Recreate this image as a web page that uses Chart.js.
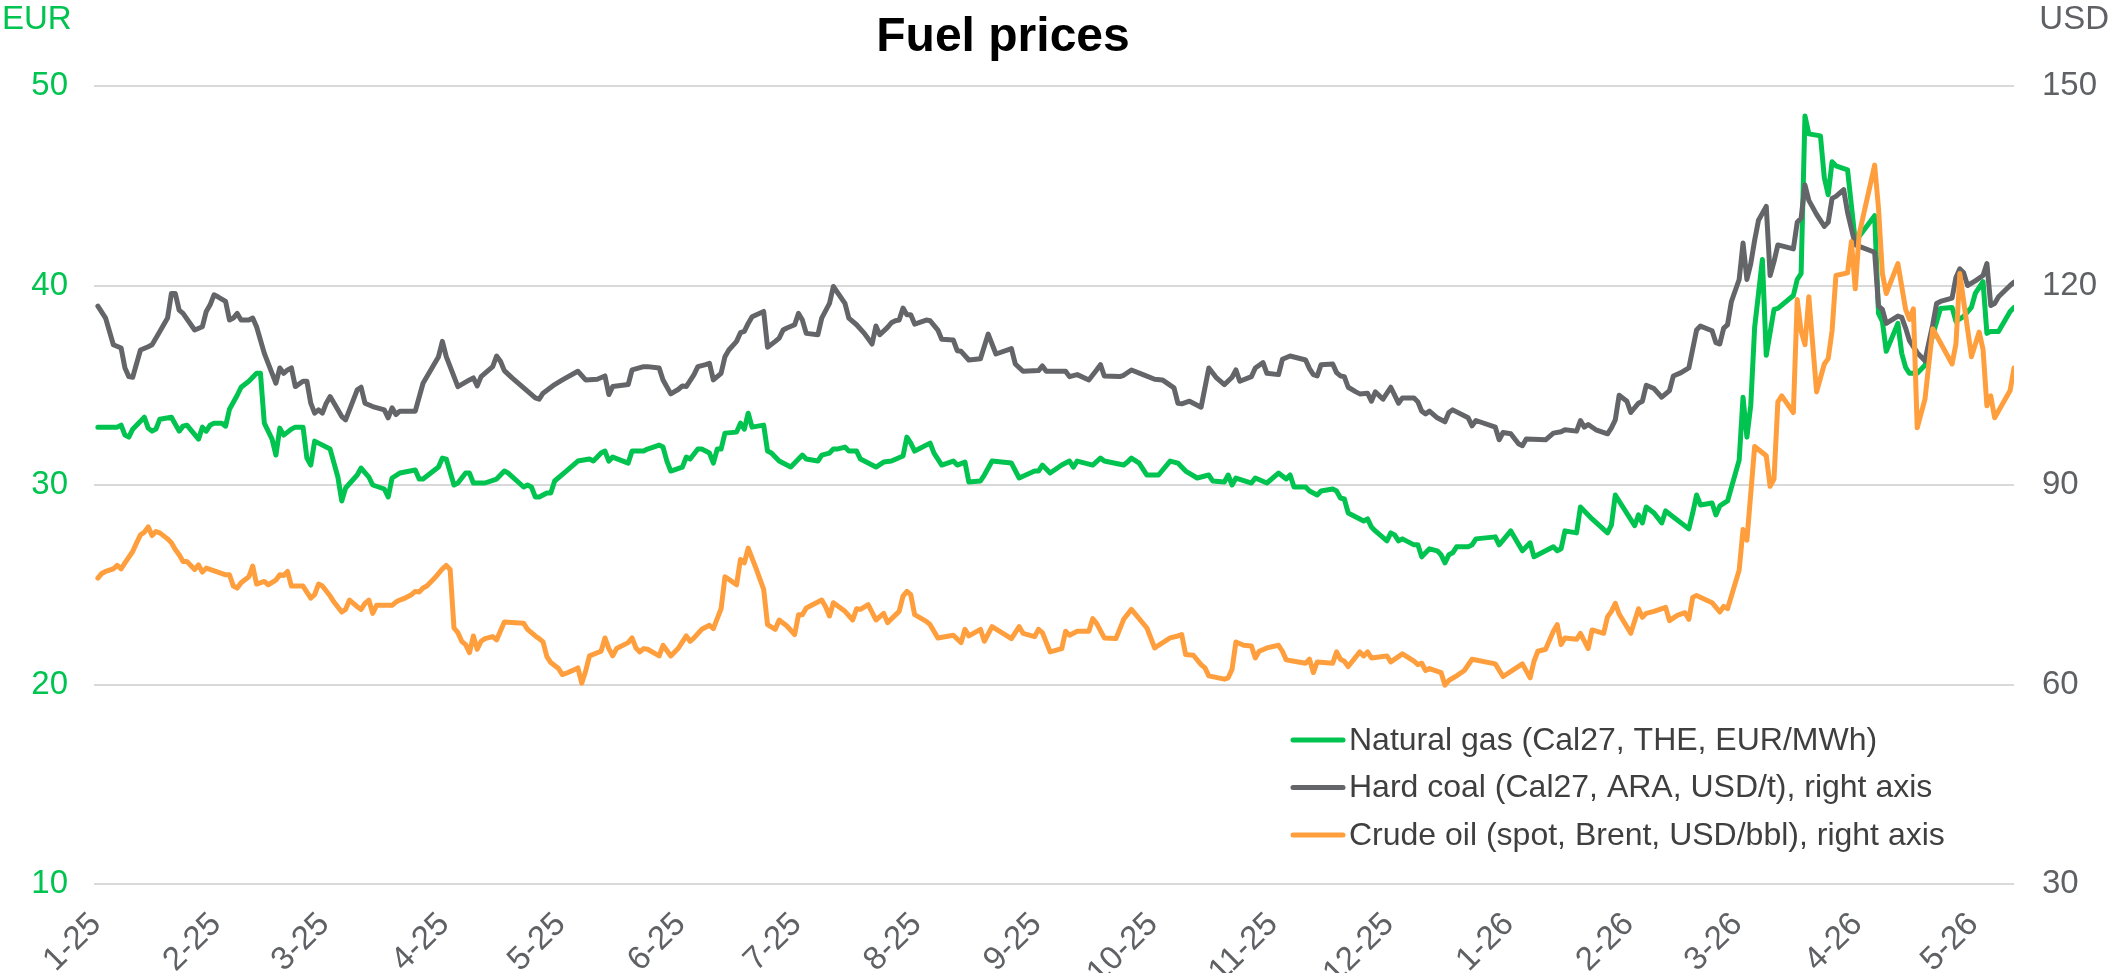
<!DOCTYPE html>
<html lang="en">
<head>
<meta charset="UTF-8">
<title>Fuel prices</title>
<script src="https://cdn.jsdelivr.net/npm/chart.js@4.4.1/dist/chart.umd.min.js"></script>
<style>
  body { margin: 0; background: #fff; }
  #chart { display: block; }
</style>
</head>
<body>
<canvas id="chart" width="2110" height="973"></canvas>
<script>
// x values are days counted from 1 Jan 2025
const chartTitle = 'Fuel prices';
const leftUnit = 'EUR';
const rightUnit = 'USD';
const monthStarts = [0, 31, 59, 90, 120, 151, 181, 212, 243, 273, 304, 334, 365, 396, 424, 455, 485];
const monthLabels = ['1-25', '2-25', '3-25', '4-25', '5-25', '6-25', '7-25', '8-25', '9-25', '10-25',
  '11-25', '12-25', '1-26', '2-26', '3-26', '4-26', '5-26'];
const seriesLabels = ['Natural gas (Cal27, THE, EUR/MWh)',
  'Hard coal (Cal27, ARA, USD/t), right axis',
  'Crude oil (spot, Brent, USD/bbl), right axis'];

// natural gas, EUR/MWh (left axis)
const gasDays = [1, 6, 7, 8, 9, 10, 13, 14, 15, 16, 17, 20, 22, 23, 24, 27, 28, 29, 30, 31, 33, 34, 35, 37, 38,
  40, 42, 43, 44, 46, 47, 48, 49, 51, 52, 54, 55, 56, 57, 58, 61, 62, 63, 64, 65, 68, 69, 71, 72, 75, 76, 77,
  79, 83, 84, 85, 89, 90, 91, 93, 94, 96, 97, 98, 101, 104, 105, 106, 107, 111, 112, 113, 114, 115, 117, 118,
  119, 122, 125, 128, 129, 131, 132, 133, 134, 138, 139, 142,
  143, 146, 147, 148, 149, 152, 153, 154, 156, 157, 159, 160, 161, 162, 163, 166, 167, 168, 169, 170, 173,
  174, 175, 177, 180, 183, 184, 187, 188, 190, 191, 192, 194, 195, 197, 198, 202, 204, 206, 209, 210, 211,
  212, 216, 217, 219, 222, 223, 225, 226, 229, 230, 232, 237, 239, 243, 244, 245, 246, 247, 250, 252, 253,
  254, 258, 260, 261, 266, 267, 268, 270, 272, 275, 278, 280, 282, 285, 288, 289, 292, 293, 294, 295, 299,
  300, 303, 306, 308, 309, 310,
  313, 314, 316, 317, 320, 321, 322, 323, 324, 326, 328, 329, 330, 331, 334, 335, 336, 337, 338, 341, 342,
  343, 345, 347, 348, 349, 350, 351, 352, 355, 356, 357, 362, 363, 366, 369, 371, 372, 377, 378, 379, 380,
  383, 384, 387, 391, 392, 393, 398, 399, 400, 401, 403, 405, 406, 408, 412, 413, 414, 415, 418, 419, 420,
  422, 425, 426, 427, 428, 429, 431, 432, 434, 435, 439, 440, 441, 442, 443, 446, 447, 448, 449, 450, 453,
  454, 455, 460, 461, 462, 463, 466, 467, 468, 469, 471, 473, 475, 477, 480, 481, 483, 485, 486, 488, 489,
  490, 492, 495, 496];
const gasPrices = [32.9, 32.9, 33.0, 32.5, 32.4, 32.8, 33.4, 32.85, 32.7, 32.8, 33.3, 33.4, 32.7, 32.95, 33.0,
  32.3, 32.9, 32.7, 33.0, 33.1, 33.1, 32.95, 33.8, 34.5, 34.9, 35.2, 35.6, 35.6, 33.1, 32.3, 31.5, 32.85, 32.5,
  32.8, 32.9, 32.9, 31.35, 31.0, 32.2, 32.1, 31.8, 31.1, 30.4, 29.2, 29.85, 30.5, 30.85, 30.4, 30.0, 29.8, 29.4,
  30.35, 30.6, 30.75, 30.3, 30.3, 30.9, 31.35, 31.3, 30.0, 30.1, 30.6, 30.6, 30.1, 30.1, 30.3, 30.5, 30.7, 30.6,
  29.9, 30.0, 29.9, 29.4, 29.4, 29.6, 29.6, 30.2, 30.7, 31.2, 31.3, 31.2, 31.6, 31.7, 31.2, 31.4, 31.1, 31.7,
  31.7,
  31.8, 32.0, 31.9, 31.2, 30.7, 30.9, 31.4, 31.3, 31.8, 31.8, 31.6, 31.1, 31.8, 31.8, 32.6, 32.65, 33.1, 32.8,
  33.6, 32.9, 33.0, 31.7, 31.6, 31.2, 30.9, 31.5, 31.3, 31.2, 31.5, 31.6, 31.8, 31.8, 31.9, 31.7, 31.7, 31.3,
  30.9, 31.15, 31.2, 31.45, 32.4, 32.1, 31.7, 32.1, 31.6, 31.0, 31.2, 31.0, 31.15, 30.15, 30.2, 30.5, 31.2,
  31.1, 30.35, 30.7, 30.7, 31.0, 30.8, 30.6, 31.0, 31.2, 30.9, 31.2, 31.0, 31.35, 31.2, 31.0, 31.15, 31.35,
  31.1, 30.5, 30.5, 31.2, 31.1, 30.7, 30.35, 30.5, 30.2, 30.15, 30.5, 30.0, 30.35, 30.1, 30.35, 30.1, 30.6,
  30.3, 30.5, 29.9,
  29.9, 29.7, 29.5, 29.7, 29.8, 29.7, 29.35, 29.3, 28.6, 28.4, 28.2, 28.3, 27.9, 27.7, 27.2, 27.6, 27.5, 27.2,
  27.3, 27.0, 27.0, 26.4, 26.8, 26.7, 26.5, 26.1, 26.5, 26.6, 26.9, 26.9, 27.0, 27.3, 27.4, 27.0, 27.7, 26.7,
  27.1, 26.4, 26.9, 26.7, 26.8, 27.7, 27.6, 28.9, 28.3, 27.6, 28.0, 29.5, 27.96, 28.5, 28.1, 28.9, 28.6, 28.1,
  28.7, 28.4, 27.8, 28.6, 29.5, 29.0, 29.1, 28.5, 28.95, 29.2, 31.25, 34.4, 32.4, 34.0, 37.9, 41.3, 36.5, 38.8,
  38.85, 39.5, 40.3, 40.6, 48.5, 47.6, 47.5, 45.4, 44.55, 46.2, 46.0, 45.8, 44.0, 42.2, 43.5, 38.6, 38.2, 36.7,
  38.1, 36.6, 35.9, 35.6, 35.6, 36.0, 37.5, 38.85, 38.9, 38.2, 38.45, 38.9, 39.6, 40.2, 37.6, 37.7, 37.7,
  38.7, 38.9];

// hard coal, USD/t (right axis)
const coalDays = [1, 3, 5, 7, 8, 9, 10, 12, 14, 15, 17, 19, 20, 21, 22, 23, 26, 28, 29, 30, 31, 32, 34, 35,
  36, 37, 38, 40, 41, 42, 44, 46, 47, 48, 49, 50, 51, 52, 54, 55, 56, 57, 58, 59, 60, 61, 63, 64, 65, 68, 69,
  70, 72, 75, 76, 77, 78, 79, 83, 85, 87, 89, 90, 91, 93, 94, 97, 98, 99, 100, 103, 104, 105, 106, 108, 111,
  114, 115, 116, 119, 121, 125, 127, 130, 132, 133, 134, 138, 139, 142,
  143, 146, 147, 149, 151, 152, 153, 155, 156, 158, 159, 160, 162, 163, 164, 166, 167, 168, 169, 170, 173,
  174, 176, 177, 178, 179, 181, 182, 183, 184, 187, 188, 190, 191, 194, 195, 197, 199, 201, 202, 203, 205,
  206, 207, 208, 209, 210, 211, 212, 215, 216, 218, 219, 222, 223, 224, 226, 229, 231, 233, 237, 238, 240,
  244, 245, 246, 251, 252, 254, 257, 259, 260, 261, 265, 266, 268, 271, 274, 276, 279, 280, 281, 283, 286,
  288, 290, 292, 294, 295, 296, 299, 300, 302, 303, 306, 307, 309,
  313, 314, 315, 316, 317, 320, 321, 322, 323, 324, 326, 327, 329, 330, 331, 333, 335, 337, 338, 341, 342,
  343, 344, 345, 347, 349, 350, 351, 355, 356, 357, 362, 363, 364, 366, 368, 369, 370, 375, 377, 379, 380,
  383, 384, 385, 386, 388, 391, 392, 393, 394, 396, 397, 399, 400, 401, 403, 405, 407, 408, 410, 412, 414,
  415, 418, 419, 420, 421, 422, 423, 425, 426, 427, 428, 429, 430, 432, 433, 434, 435, 439, 440, 441, 442,
  443, 445, 447, 448, 449, 450, 452, 453, 455, 460, 461, 462, 463, 466, 467, 468, 469, 471, 473, 475, 476,
  477, 480, 481, 482, 483, 484, 486, 488, 489, 490, 491, 492, 495, 496];
const coalPrices = [116.9, 115.1, 111.1, 110.6, 107.6, 106.3, 106.2, 110.3, 110.8, 111.1, 113.1, 115.1, 118.8,
  118.8, 116.3, 115.8, 113.3, 113.8, 116.1, 117.1, 118.6, 118.3, 117.6, 114.8, 115.1, 115.8, 114.8, 114.8,
  115.1, 113.8, 109.8, 106.8, 105.3, 107.6, 106.8, 107.3, 107.6, 104.8, 105.6, 105.6, 102.3, 100.8, 101.3,
  100.8, 102.3, 103.3, 101.3, 100.3, 99.8, 104.3, 104.7, 102.3, 101.8, 101.3, 100.1, 101.6, 100.6, 101.1,
  101.1, 105.3, 107.3, 109.3, 111.6, 109.3, 106.3, 104.8, 105.8, 106.1, 104.9, 106.3, 107.8, 109.4, 108.6,
  107.2, 106.1, 104.6, 103.1, 102.9, 103.8, 105.1, 105.8, 107.1, 105.8, 105.9, 106.4, 103.6, 104.8, 105.1,
  107.3, 107.8,
  107.8, 107.6, 105.8, 103.7, 104.4, 104.9, 104.8, 106.6, 107.8, 108.1, 108.3, 105.8, 106.8, 109.3, 110.3,
  111.6, 112.9, 113.1, 114.3, 115.3, 116.1, 110.7, 111.6, 112.1, 113.3, 113.6, 114.1, 115.8, 114.8, 112.8,
  112.6, 115.1, 117.3, 119.85, 117.3, 115.1, 114.1, 112.8, 111.2, 113.9, 112.6, 113.7, 114.4, 114.7, 114.8,
  116.6, 115.6, 115.6, 114.2, 114.8, 114.7, 113.3, 111.9, 111.8, 110.2, 110.1, 108.8, 109.0, 112.7, 109.7,
  110.5, 108.2, 107.1, 107.2, 107.9, 107.1, 107.1, 106.3, 106.6, 105.8, 107.3, 108.1, 106.4, 106.3, 106.5,
  107.3, 106.6, 105.9, 105.8, 104.6, 102.3, 102.2, 102.6, 101.7, 107.6, 106.1, 105.1, 106.2, 107.3, 105.6,
  106.3, 107.6, 108.4, 106.8, 106.6, 108.9, 109.4,
  108.8, 107.5, 106.6, 106.4, 108.1, 108.2, 106.9, 106.4, 106.3, 104.7, 104.0, 103.7, 103.8, 102.6, 104.0,
  102.9, 104.7, 102.3, 103.1, 103.1, 102.5, 101.1, 100.7, 101.1, 100.1, 99.5, 100.9, 101.3, 100.1, 98.9, 99.7,
  98.7, 96.8, 97.9, 97.7, 96.2, 95.9, 96.9, 96.8, 97.8, 98.0, 98.3, 98.1, 99.7, 98.7, 99.1, 98.3, 97.7, 98.6,
  99.8, 103.5, 102.6, 100.9, 102.3, 102.6, 105.0, 104.5, 103.2, 104.2, 106.4, 106.9, 107.6, 113.3, 113.9,
  113.2, 111.4, 111.2, 113.6, 114.1, 117.6, 120.9, 126.4, 120.9, 123.3, 126.8, 129.8, 131.9, 121.5, 123.6,
  126.1, 125.5, 129.5, 130.1, 135.1, 132.8, 130.7, 128.9, 129.5, 133.1, 133.4, 134.4, 131.0, 126.1, 125.0,
  116.9, 116.4, 114.3, 115.4, 115.2, 113.6, 111.7, 109.9, 108.7, 114.1, 117.3, 117.6, 118.1, 121.2, 122.5,
  121.9, 120.0, 120.7, 121.5, 123.3, 117.0, 117.3, 118.3, 120.0, 120.5];

// crude oil, USD/bbl (right axis)
const oilDays = [1, 2, 3, 5, 6, 7, 8, 10, 11, 12, 13, 14, 15, 16, 17, 19, 20, 21, 22, 23, 24, 26, 27, 28, 29,
  32, 34, 35, 36, 37, 38, 40, 41, 42, 44, 45, 47, 48, 49, 50, 51, 54, 56, 57, 58, 59, 61, 62, 64, 65, 66, 68,
  69, 70, 71, 72, 73, 77, 78, 79, 80, 82, 83, 84, 85, 86, 88, 90, 91, 92, 93, 94, 95, 96, 97, 98, 99, 100, 101,
  103, 104, 106, 111, 112, 114, 115, 116, 117, 118, 120, 121, 122, 124, 125, 126, 127, 128, 131, 132, 133,
  134, 135, 138, 139, 140, 141, 142,
  143, 146, 147, 149, 151, 153, 154, 155, 157, 159, 160, 162, 163, 164, 166, 167, 168, 169, 171, 173, 174,
  176, 177, 179, 181, 182, 183, 184, 187, 188, 189, 190, 191, 194, 196, 197, 198, 200, 202, 204, 205, 208,
  209, 210, 211, 212, 215, 216, 218, 222, 224, 225, 226, 229, 230, 232, 237, 239, 240, 243, 244, 245, 247,
  250, 251, 252, 254, 257, 258, 259, 261, 264, 266, 268, 272, 274, 275, 278, 280, 281, 282, 284, 286, 287,
  288, 292, 293, 294, 295, 297, 299, 300, 301, 303, 306, 307, 308, 310,
  313, 314, 315, 316, 320, 321, 322, 323, 324, 327, 328, 329, 330, 334, 335, 338, 341, 342, 343, 344, 345,
  348, 349, 350, 352, 354, 356, 362, 364, 369, 371, 372, 373, 375, 377, 378, 379, 380, 383, 384, 386, 387,
  390, 391, 392, 393, 394, 397, 399, 400, 401, 403, 406, 407, 409, 411, 412, 413, 414, 418, 420, 421, 422,
  425, 426, 427, 429, 432, 433, 434, 435, 436, 439, 440, 441, 442, 443, 445, 447, 448, 449, 450, 453, 454,
  455, 456, 460, 461, 462, 463, 466, 468, 469, 470, 471, 473, 475, 477, 480, 481, 482, 485, 487, 488, 489,
  490, 491, 495, 496];
const oilPrices = [76.0, 76.7, 77.0, 77.4, 77.9, 77.4, 78.3, 80.0, 81.3, 82.5, 82.9, 83.7, 82.4, 83.0, 82.8,
  81.9, 81.3, 80.3, 79.5, 78.5, 78.5, 77.3, 78.0, 76.9, 77.5, 76.9, 76.5, 76.5, 74.8, 74.5, 75.3, 76.2, 77.8,
  75.1, 75.5, 75.0, 75.7, 76.5, 76.4, 77.0, 74.8, 74.8, 73.0, 73.5, 75.1, 74.8, 73.3, 72.4, 70.9, 71.3, 72.7,
  71.7, 71.3, 72.2, 72.7, 70.7, 71.9, 71.9, 72.4, 72.7, 72.9, 73.5, 74.0, 73.9, 74.5, 74.8, 76.0, 77.4, 77.9,
  77.3, 68.5, 67.8, 66.5, 66.0, 64.8, 67.3, 65.3, 66.5, 66.9, 67.2, 66.7, 69.4, 69.2, 68.3, 67.3, 66.9, 66.4,
  64.2, 63.3, 62.4, 61.5, 61.7, 62.2, 62.5, 60.2, 62.0, 64.3, 65.0, 67.0, 65.4, 64.3, 65.4, 66.3, 67.0, 65.5,
  64.9, 65.4,
  65.3, 64.3, 65.9, 64.3, 65.5, 67.3, 66.5, 67.0, 68.3, 68.9, 68.4, 71.4, 76.2, 75.8, 75.0, 78.8, 78.3, 80.5,
  77.5, 74.3, 69.0, 68.3, 69.7, 68.8, 67.5, 70.5, 70.5, 71.5, 72.4, 72.7, 71.7, 70.3, 72.3, 71.0, 69.7, 71.4,
  71.3, 72.0, 69.7, 70.7, 69.3, 71.0, 73.3, 74.0, 73.5, 70.5, 69.5, 69.0, 67.0, 67.4, 66.3, 68.3, 67.3, 68.3,
  66.5, 68.7, 66.9, 68.7, 67.7, 67.2, 68.3, 67.8, 64.9, 65.4, 68.0, 67.4, 68.0, 68.0, 69.9, 69.2, 67.0, 66.9,
  69.8, 71.3, 68.5, 65.5, 65.9, 67.0, 67.3, 67.5, 64.5, 64.4, 63.0, 62.5, 61.3, 60.8, 61.0, 62.3, 66.4, 65.9,
  65.8, 64.0, 65.0, 65.5, 65.9, 65.0, 63.7, 63.5,
  63.2, 63.8, 61.8, 63.4, 63.2, 64.9, 63.8, 63.5, 62.7, 64.9, 64.3, 64.9, 64.0, 64.3, 63.4, 64.6, 63.5, 63.0,
  63.2, 62.1, 62.4, 61.8, 59.9, 60.6, 61.3, 62.1, 63.8, 63.1, 61.2, 63.1, 61.0, 63.5, 65.0, 65.3, 68.0, 69.0,
  66.0, 67.0, 66.8, 67.7, 65.4, 68.2, 67.7, 70.2, 71.0, 72.2, 70.6, 67.7, 71.4, 70.1, 70.7, 71.0, 71.6, 69.6,
  70.4, 70.8, 69.8, 73.1, 73.4, 72.3, 70.9, 71.75, 71.4, 77.2, 83.3, 81.7, 95.8, 94.4, 89.8, 90.9, 102.5,
  103.4, 100.9, 117.9, 113.2, 111.1, 118.3, 104.0, 108.2, 109.0, 113.2, 121.5, 121.9, 126.6, 119.5, 127.7,
  138.1, 131.6, 121.8, 118.8, 123.3, 116.4, 114.9, 116.5, 98.6, 102.9, 113.5, 111.4, 108.2, 111.2, 121.8,
  109.3, 113.0, 110.4, 101.9, 103.4, 100.1, 104.2, 107.6];

const fontFamily = "'Liberation Sans', Arial, sans-serif";
const green = '#00C350';
const gray = '#636569';
const orange = '#FF9E3D';
const textGray = '#5F6165';

Chart.defaults.font.family = fontFamily;
Chart.defaults.font.size = 33;

function toPoints(days, values) {
  return days.map((d, i) => ({ x: d, y: values[i] }));
}

// title, unit labels and the legend drawn on the canvas
const extraText = {
  id: 'extraText',
  afterDraw(chart) {
    const c = chart.ctx;
    c.save();
    c.textBaseline = 'alphabetic';
    c.font = 'bold 48px ' + fontFamily;
    c.fillStyle = '#000';
    c.textAlign = 'center';
    c.fillText(chartTitle, 1003, 51);

    c.font = '33px ' + fontFamily;
    c.textAlign = 'left';
    c.fillStyle = green;
    c.fillText(leftUnit, 2, 29);
    c.textAlign = 'right';
    c.fillStyle = textGray;
    c.fillText(rightUnit, 2109, 29);

    c.font = '32px ' + fontFamily;
    c.textAlign = 'left';
    c.textBaseline = 'middle';
    chart.data.datasets.forEach((ds, i) => {
      const y = 740 + i * 47.5;
      c.strokeStyle = ds.borderColor;
      c.lineWidth = 5;
      c.lineCap = 'round';
      c.beginPath();
      c.moveTo(1293, y);
      c.lineTo(1343, y);
      c.stroke();
      c.fillStyle = '#3F3F3F';
      c.fillText(ds.label, 1349, y + 1);
    });
    c.restore();
  }
};

const ctx = document.getElementById('chart').getContext('2d');
new Chart(ctx, {
  type: 'line',
  data: {
    datasets: [
      { label: seriesLabels[0], data: toPoints(gasDays, gasPrices), borderColor: green, yAxisID: 'y', order: 3 },
      { label: seriesLabels[1], data: toPoints(coalDays, coalPrices), borderColor: gray, yAxisID: 'y1', order: 2 },
      { label: seriesLabels[2], data: toPoints(oilDays, oilPrices), borderColor: orange, yAxisID: 'y1', order: 1 }
    ]
  },
  options: {
    responsive: false,
    animation: false,
    layout: { padding: { top: 86, left: 0, right: 0, bottom: 0 } },
    elements: {
      point: { radius: 0 },
      line: { borderWidth: 5, tension: 0, borderCapStyle: 'round', borderJoinStyle: 'round', fill: false }
    },
    plugins: {
      legend: { display: false },
      tooltip: { enabled: false },
      title: { display: false }
    },
    scales: {
      x: {
        type: 'linear',
        min: 0,
        max: 496,
        grid: { display: false, drawTicks: false },
        border: { display: false },
        afterBuildTicks: axis => { axis.ticks = monthStarts.map(v => ({ value: v })); },
        afterFit: axis => { axis.height = 89; },
        ticks: {
          autoSkip: false,
          minRotation: 45,
          maxRotation: 45,
          padding: 21,
          labelOffset: 2,
          color: textGray,
          callback: (value, index) => monthLabels[index]
        }
      },
      y: {
        position: 'left',
        min: 10,
        max: 50,
        ticks: { stepSize: 10, color: green, padding: 26 },
        grid: { color: '#D9D9D9', lineWidth: 2, drawTicks: false },
        border: { display: false },
        afterFit: axis => { axis.width = 94; }
      },
      y1: {
        position: 'right',
        min: 30,
        max: 150,
        ticks: { stepSize: 30, color: textGray, padding: 28 },
        grid: { display: false, drawTicks: false },
        border: { display: false },
        afterFit: axis => { axis.width = 96; }
      }
    }
  },
  plugins: [extraText]
});
</script>
</body>
</html>
